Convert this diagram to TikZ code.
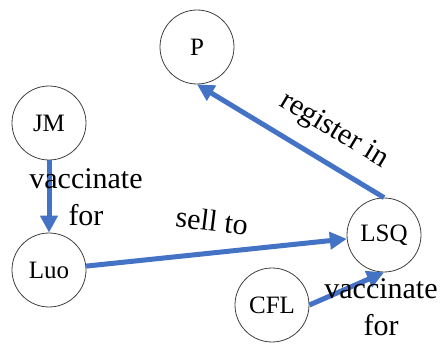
\documentclass[tikz,border=0pt]{standalone}
\usepackage{fontspec}
\setmainfont{Liberation Serif}
\usetikzlibrary{arrows.meta}
\definecolor{arrowblue}{HTML}{4472C4}
\begin{document}
\begin{tikzpicture}[x=1pt,y=-1pt,
  ent/.style={circle,draw=black!75,line width=0.8pt,minimum size=74pt,inner sep=0pt,font=\fontsize{25}{30}\selectfont},
  rel/.style={draw=arrowblue,line width=5pt,-{Triangle[length=17pt,width=17pt]}},
  lab/.style={font=\fontsize{30}{37}\selectfont,inner sep=0pt,align=center}]
\useasboundingbox (0,0) rectangle (440,345);
\node[ent] (P) at (197,47) {P};
\node[ent] (JM) at (49,123) {JM};
\node[ent] (Luo) at (49,270) {Luo};
\node[ent] (LSQ) at (384,235) {LSQ};
\node[ent] (CFL) at (272,305) {CFL};
\draw[rel] (JM) -- (Luo);
\draw[rel] (Luo) -- (LSQ);
\draw[rel] (LSQ.north) -- (P.south);
\draw[rel] (CFL.east) -- (LSQ.south);
\node[lab] (l1) at (86,197) {vaccinate\\for};
\node[lab,rotate=-7] (l2) at (212,221) {sell to};
\node[lab,rotate=-31] (l3) at (334,131) {register in};
\node[lab] (l4) at (381,307) {vaccinate\\for};
\end{tikzpicture}
\end{document}
